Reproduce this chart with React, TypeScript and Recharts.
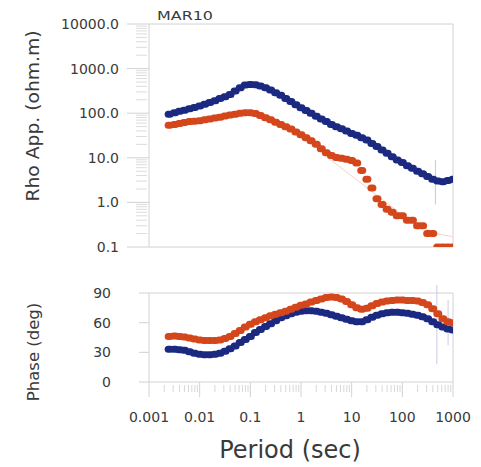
import React from 'react';
import { ScatterChart, Scatter, XAxis, YAxis, ReferenceArea, ErrorBar } from 'recharts';

// Periods (sec), 10 per decade
const periods = [
  0.0025, 0.0032, 0.004, 0.005, 0.0063, 0.0079, 0.01, 0.0126, 0.0158, 0.02,
  0.0251, 0.0316, 0.0398, 0.0501, 0.0631, 0.0794, 0.1, 0.126, 0.158, 0.2,
  0.251, 0.316, 0.398, 0.501, 0.631, 0.794, 1, 1.26, 1.58, 2,
  2.51, 3.16, 3.98, 5.01, 6.31, 7.94, 10, 12.6, 15.8, 20,
  25.1, 31.6, 39.8, 50.1, 63.1, 79.4, 100, 126, 158, 200,
  251, 316, 398, 501, 631, 794, 1000,
];

// Apparent resistivity (ohm.m)
const blueRho = [
  95, 102, 110, 117, 126, 135, 145, 158, 174, 191,
  214, 234, 263, 316, 372, 427, 442, 436, 407, 372,
  331, 288, 251, 214, 182, 155, 132, 115, 100, 85,
  74, 65, 56, 50, 45, 40, 35, 32, 28, 25,
  21, 18, 15, 12.6, 10.5, 8.9, 7.8, 6.6, 5.8, 5.0,
  4.4, 3.8, 3.3, 3.0, 2.9, 3.1, 3.3,
];
const redRho = [
  54, 56, 59, 62, 65, 66, 68, 71, 74, 78,
  81, 87, 91, 95, 100, 102, 102, 98, 89, 79,
  71, 63, 56, 50, 44, 38, 33, 28, 24, 20,
  16, 13, 11.2, 10.2, 9.8, 9.3, 8.7, 7.6, 5.2, 3.3,
  2.1, 1.2, 0.9, 0.7, 0.6, 0.5, 0.5, 0.4, 0.4, 0.3,
  0.3, 0.2, 0.2, 0.1, 0.1, 0.1, 0.1,
];

// Phase (deg)
const bluePhase = [
  33, 33, 32.5, 32, 30.5, 29, 28, 27.5, 27.5, 28,
  29, 31, 33.5, 36.5, 40, 43, 46, 50, 53, 56,
  59, 62, 65, 67, 69, 70.5, 71.5, 72, 72, 71.5,
  70.5, 69.5, 68, 66.5, 65, 63.5, 62, 61, 61, 63,
  65.5, 67.5, 69, 70, 70.5, 70.5, 70, 69.5, 68.5, 67.5,
  66, 64, 61, 58, 55.5, 53.5, 52.5,
];
const redPhase = [
  46, 46.5, 46, 45.5, 44.5, 43.5, 42.5, 42, 42, 42,
  42.5, 44, 46, 49, 52, 55.5, 58.5, 61, 63, 65,
  67, 68.5, 70, 71.5, 73.5, 75.5, 77.5, 79, 81, 82.5,
  84, 85.5, 86, 85.5, 84, 81.5, 78, 75, 73.5, 74.5,
  77, 79.5, 81, 82, 82.5, 83, 83, 82.5, 82.5, 82,
  80.5, 78, 74, 69, 64, 61, 60,
];

// Faint model response / error bars
const redModelPeriods = [3.2, 130, 450, 1000];
const redModelRho = [10.5, 0.42, 0.2, 0.17];
const blueErrPeriods = [450];
const blueErrRho = [3.0];
const blueErrRange = [[2.1, 5.9]];
const phaseErrPeriods = [480, 800];
const phaseErrCenter = [58, 60];
const phaseErrRange = [[40, 40], [23, 23]];

const rhoMajor = [0.1, 1, 10, 100, 1000, 10000];
const periodMajor = [0.001, 0.01, 0.1, 1, 10, 100, 1000];
const minorMult = [2, 3, 4, 5, 6, 7, 8, 9];
const phaseTicks = [0, 30, 60, 90];

const rhoTicks = [
  ...rhoMajor,
  ...rhoMajor.slice(0, -1).flatMap((d) => minorMult.map((m) => d * m)),
];
const periodTicks = [
  ...periodMajor,
  ...periodMajor.slice(0, -1).flatMap((d) => minorMult.map((m) => d * m)),
];

const BLUE = '#1b2a80';
const RED = '#d4461b';
const FONT = '"DejaVu Sans", "Liberation Sans", sans-serif';
const TXT = '#3a3a3a';
const FRAME = '#d2d2d2';

const isMajor = (v: number) => Math.abs(Math.log10(v) - Math.round(Math.log10(v))) < 1e-9;

const toXY = (xs: number[], ys: number[]) => xs.map((x, i) => ({ x, y: ys[i] }));

const blueRhoData = toXY(periods, blueRho);
const redRhoData = toXY(periods, redRho);
const bluePhaseData = toXY(periods, bluePhase);
const redPhaseData = toXY(periods, redPhase);
const redModelData = toXY(redModelPeriods, redModelRho);
const blueErrData = blueErrPeriods.map((x, i) => ({ x, y: blueErrRho[i], err: blueErrRange[i] }));
const phaseErrData = phaseErrPeriods.map((x, i) => ({ x, y: phaseErrCenter[i], err: phaseErrRange[i] }));

const marker = (color: string) => (props: any) => {
  const { cx, cy } = props;
  if (cx == null || cy == null) return <g />;
  return <rect x={cx - 4.5} y={cy - 3.5} width={9} height={7} rx={3.5} ry={3.5} fill={color} />;
};
const noShape = () => <g />;

const RhoTick = (props: any) => {
  const { x, y, payload } = props;
  const v = payload.value;
  if (isMajor(v)) {
    return (
      <g>
        <line x1={x - 22} x2={x} y1={y} y2={y} stroke={FRAME} />
        <text x={x - 30} y={y + 5} textAnchor="end" fontSize={14} fill={TXT} fontFamily={FONT}>
          {v.toFixed(1)}
        </text>
      </g>
    );
  }
  return <line x1={x - 13} x2={x - 2} y1={y} y2={y} stroke="#dcdcdc" />;
};

const PhaseTick = (props: any) => {
  const { x, y, payload } = props;
  return (
    <g>
      <line x1={x - 10} x2={x} y1={y} y2={y} stroke={FRAME} />
      <text x={x - 38} y={y + 5} textAnchor="end" fontSize={14} fill={TXT} fontFamily={FONT}>
        {String(payload.value)}
      </text>
    </g>
  );
};

const PeriodTick = (props: any) => {
  const { x, y, payload } = props;
  const v = payload.value;
  if (isMajor(v)) {
    return (
      <g>
        <line x1={x} x2={x} y1={y} y2={y + 15} stroke={FRAME} />
        <text x={x} y={y + 40} textAnchor="middle" fontSize={14} fill={TXT} fontFamily={FONT}>
          {String(v)}
        </text>
      </g>
    );
  }
  return <line x1={x} x2={x} y1={y + 3} y2={y + 10} stroke="#d8d8d8" />;
};

export default function App() {
  return (
    <div
      style={{
        position: 'absolute',
        left: 0,
        top: 0,
        width: 481,
        height: 467,
        background: '#fff',
        fontFamily: FONT,
      }}
    >
      <div style={{ position: 'absolute', left: 0, top: 0 }}>
        <ScatterChart width={481} height={270} margin={{ top: 24, right: 28, bottom: 23, left: 0 }}>
          <XAxis type="number" dataKey="x" scale="log" domain={[0.001, 1000]} hide allowDataOverflow />
          <YAxis
            type="number"
            dataKey="y"
            scale="log"
            domain={[0.1, 10000]}
            ticks={rhoTicks}
            interval={0}
            width={149}
            tick={(p: any) => <RhoTick {...p} />}
            tickLine={false}
            axisLine={false}
            tickSize={0}
            tickMargin={0}
            allowDataOverflow
          />
          <ReferenceArea x1={0.001} x2={1000} y1={0.1} y2={10000} fill="none" stroke={FRAME} ifOverflow="visible" />
          <Scatter data={redModelData} line={{ stroke: '#f6d3c6', strokeWidth: 1 }} shape={noShape} isAnimationActive={false} />
          <Scatter data={blueErrData} shape={noShape} isAnimationActive={false}>
            <ErrorBar dataKey="err" direction="y" width={0} stroke="#c3c8e3" strokeWidth={1} isAnimationActive={false} />
          </Scatter>
          <Scatter data={blueRhoData} shape={marker(BLUE)} isAnimationActive={false} />
          <Scatter data={redRhoData} shape={marker(RED)} isAnimationActive={false} />
        </ScatterChart>
      </div>
      <div style={{ position: 'absolute', left: 0, top: 270 }}>
        <ScatterChart width={481} height={197} margin={{ top: 23, right: 28, bottom: 0, left: 0 }}>
          <XAxis
            type="number"
            dataKey="x"
            scale="log"
            domain={[0.001, 1000]}
            ticks={periodTicks}
            interval={0}
            height={85}
            tick={(p: any) => <PeriodTick {...p} />}
            tickLine={false}
            axisLine={false}
            tickSize={0}
            tickMargin={0}
            allowDataOverflow
          />
          <YAxis
            type="number"
            dataKey="y"
            domain={[0, 90]}
            ticks={phaseTicks}
            interval={0}
            width={149}
            tick={(p: any) => <PhaseTick {...p} />}
            tickLine={false}
            axisLine={false}
            tickSize={0}
            tickMargin={0}
            allowDataOverflow
          />
          <ReferenceArea x1={0.001} x2={1000} y1={0} y2={90} fill="none" stroke={FRAME} ifOverflow="visible" />
          <Scatter data={phaseErrData} shape={noShape} isAnimationActive={false}>
            <ErrorBar dataKey="err" direction="y" width={0} stroke="#c8cce6" strokeWidth={1} isAnimationActive={false} />
          </Scatter>
          <Scatter data={bluePhaseData} shape={marker(BLUE)} isAnimationActive={false} />
          <Scatter data={redPhaseData} shape={marker(RED)} isAnimationActive={false} />
        </ScatterChart>
      </div>
      <svg
        width={481}
        height={467}
        style={{ position: 'absolute', left: 0, top: 0, pointerEvents: 'none' }}
      >
        <text x={157} y={20} fontSize={13} fill={TXT} fontFamily={FONT} textLength={56} lengthAdjust="spacingAndGlyphs">
          MAR10
        </text>
        <text
          transform="translate(39,116) rotate(-90)"
          textAnchor="middle"
          fontSize={17}
          fill={TXT}
          fontFamily={FONT}
          textLength={171}
          lengthAdjust="spacingAndGlyphs"
        >
          Rho App. (ohm.m)
        </text>
        <text
          transform="translate(39,352) rotate(-90)"
          textAnchor="middle"
          fontSize={16.5}
          fill={TXT}
          fontFamily={FONT}
        >
          Phase (deg)
        </text>
        <text x={290} y={458} textAnchor="middle" fontSize={24} fill={TXT} fontFamily={FONT}>
          Period (sec)
        </text>
      </svg>
    </div>
  );
}
